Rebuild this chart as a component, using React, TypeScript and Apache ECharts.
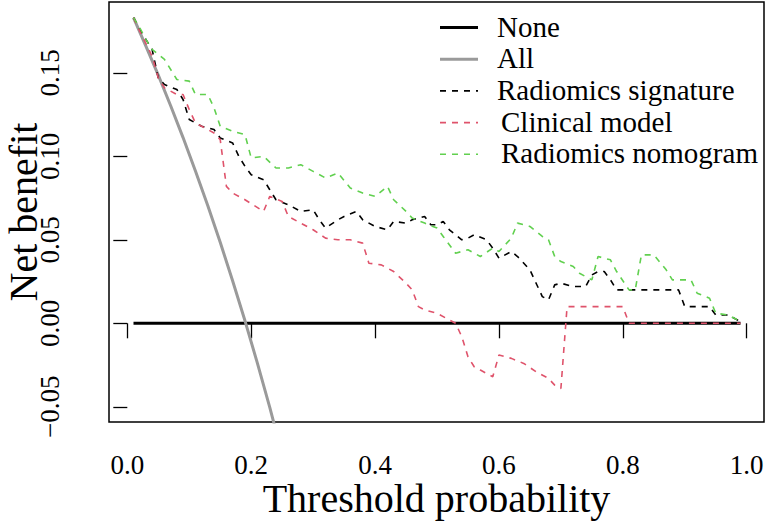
import React, { useEffect, useRef } from "react";
import * as echarts from "echarts";

const xTicks = [0, 0.2, 0.4, 0.6, 0.8, 1.0];
const yTicks = [-0.05, 0, 0.05, 0.1, 0.15];

const noneX = [0.01, 0.99];
const noneY = [0, 0];

const allX = [0.01, 0.03, 0.05, 0.07, 0.09, 0.11, 0.13, 0.15, 0.17, 0.19, 0.21, 0.23, 0.25];
const allY = [0.183, 0.166, 0.1486, 0.1303, 0.1112, 0.0912, 0.0704, 0.0485, 0.0255, 0.0015, -0.0238, -0.0504, -0.0784];

const sigX = [0.01, 0.02, 0.04, 0.05, 0.06, 0.08, 0.09, 0.10, 0.12, 0.14, 0.15, 0.17, 0.18, 0.19, 0.20, 0.22, 0.23, 0.24, 0.26, 0.28, 0.30, 0.31, 0.32, 0.34, 0.35, 0.37, 0.38, 0.40, 0.42, 0.43, 0.45, 0.46, 0.48, 0.49, 0.50, 0.51, 0.52, 0.54, 0.55, 0.56, 0.58, 0.59, 0.60, 0.62, 0.63, 0.65, 0.66, 0.67, 0.68, 0.69, 0.70, 0.72, 0.74, 0.75, 0.76, 0.77, 0.78, 0.79, 0.89, 0.90, 0.94, 0.95, 0.97, 0.99];
const sigY = [0.183, 0.176, 0.164, 0.147, 0.143, 0.140, 0.134, 0.122, 0.118, 0.116, 0.111, 0.108, 0.100, 0.094, 0.089, 0.086, 0.080, 0.074, 0.071, 0.067, 0.068, 0.062, 0.057, 0.062, 0.064, 0.067, 0.062, 0.058, 0.056, 0.061, 0.060, 0.062, 0.064, 0.059, 0.059, 0.061, 0.056, 0.050, 0.051, 0.053, 0.050, 0.045, 0.039, 0.043, 0.040, 0.032, 0.024, 0.016, 0.014, 0.023, 0.024, 0.022, 0.022, 0.029, 0.031, 0.031, 0.026, 0.020, 0.020, 0.010, 0.010, 0.005, 0.005, 0.001];

const clinX = [0.01, 0.02, 0.04, 0.05, 0.06, 0.08, 0.09, 0.10, 0.11, 0.12, 0.14, 0.15, 0.16, 0.17, 0.19, 0.22, 0.23, 0.25, 0.26, 0.28, 0.30, 0.32, 0.34, 0.36, 0.38, 0.39, 0.41, 0.43, 0.45, 0.46, 0.47, 0.48, 0.50, 0.52, 0.53, 0.54, 0.55, 0.56, 0.57, 0.59, 0.60, 0.62, 0.64, 0.66, 0.68, 0.69, 0.70, 0.71, 0.80, 0.81, 0.99];
const clinY = [0.183, 0.175, 0.160, 0.147, 0.141, 0.137, 0.137, 0.128, 0.120, 0.118, 0.114, 0.110, 0.082, 0.078, 0.074, 0.067, 0.076, 0.073, 0.064, 0.060, 0.056, 0.051, 0.050, 0.050, 0.048, 0.036, 0.035, 0.031, 0.024, 0.020, 0.010, 0.008, 0.006, 0.002, 0.000, -0.008, -0.020, -0.026, -0.028, -0.032, -0.019, -0.021, -0.024, -0.029, -0.033, -0.037, -0.039, 0.010, 0.010, 0.000, 0.000];

const nomoX = [0.01, 0.02, 0.03, 0.04, 0.06, 0.08, 0.10, 0.11, 0.13, 0.14, 0.15, 0.17, 0.19, 0.20, 0.22, 0.24, 0.26, 0.28, 0.30, 0.32, 0.34, 0.36, 0.38, 0.40, 0.42, 0.43, 0.45, 0.46, 0.48, 0.50, 0.51, 0.53, 0.55, 0.57, 0.59, 0.60, 0.62, 0.63, 0.65, 0.67, 0.68, 0.69, 0.70, 0.72, 0.73, 0.75, 0.76, 0.78, 0.79, 0.81, 0.82, 0.83, 0.85, 0.87, 0.88, 0.91, 0.92, 0.94, 0.95, 0.97, 0.99];
const nomoY = [0.183, 0.177, 0.170, 0.164, 0.158, 0.146, 0.145, 0.137, 0.137, 0.129, 0.118, 0.115, 0.113, 0.099, 0.100, 0.093, 0.093, 0.095, 0.091, 0.087, 0.090, 0.081, 0.078, 0.076, 0.082, 0.074, 0.067, 0.063, 0.060, 0.057, 0.052, 0.042, 0.044, 0.040, 0.045, 0.043, 0.051, 0.060, 0.058, 0.052, 0.050, 0.040, 0.037, 0.034, 0.030, 0.026, 0.040, 0.038, 0.031, 0.020, 0.020, 0.041, 0.041, 0.032, 0.026, 0.026, 0.018, 0.015, 0.006, 0.005, 0.001];

const legendLabels = ["None", "All", "Radiomics signature", "Clinical model", "Radiomics nomogram"];
const legendColors = ["#000000", "#9a9a9a", "#000000", "#DF536B", "#61D04F"];

const FONT = "'Liberation Serif'";

const zip = (xs: number[], ys: number[]) => xs.map((x, i) => [x, ys[i]]);

export default function App() {
  const ref = useRef<HTMLDivElement>(null);
  useEffect(() => {
    if (!ref.current) return;
    const chart = echarts.init(ref.current, undefined, { renderer: "svg" });
    const dashed = { type: [6, 6] as number[], width: 1.6 };
    const legendY = [26.5, 58.2, 89.9, 121.6, 153.3];
    const legendTextX = [497, 497, 497, 501, 501];
    const graphics: any[] = [];
    legendLabels.forEach((lab, i) => {
      const solid = i < 2;
      graphics.push({
        type: "line",
        shape: { x1: 440, y1: legendY[i] + 1, x2: 478, y2: legendY[i] + 1 },
        style: {
          stroke: legendColors[i],
          lineWidth: solid ? 3 : 1.6,
          lineDash: solid ? null : [6, 6],
        },
      });
      graphics.push({
        type: "text",
        x: legendTextX[i],
        y: legendY[i],
        style: {
          text: lab,
          fill: "#000",
          fontFamily: FONT,
          fontSize: 29,
          textAlign: "left",
          textVerticalAlign: "middle",
        },
      });
    });

    chart.setOption({
      animation: false,
      backgroundColor: "#ffffff",
      textStyle: { fontFamily: FONT },
      grid: {
        left: 109,
        right: 3,
        top: 2,
        bottom: 100,
        outerBoundsMode: "none",
        containLabel: false,
        show: true,
        borderColor: "#000",
        borderWidth: 1.5,
        backgroundColor: "transparent",
      },
      xAxis: {
        type: "value",
        min: -0.02955,
        max: 1.0279,
        name: "Threshold probability",
        nameLocation: "middle",
        nameGap: 56,
        nameMoveOverlap: false,
        nameTextStyle: { fontFamily: FONT, fontSize: 40, color: "#000" },
        axisLine: { show: false },
        splitLine: { show: false },
        axisTick: { show: true, customValues: xTicks, length: 15, lineStyle: { color: "#000", width: 1.3 } },
        axisLabel: {
          customValues: xTicks,
          formatter: (v: number) => v.toFixed(1),
          fontFamily: FONT,
          fontSize: 27,
          color: "#000",
          margin: 29,
        },
      },
      yAxis: {
        type: "value",
        min: -0.0591,
        max: 0.1924,
        name: "Net benefit",
        nameLocation: "middle",
        nameGap: 66,
        nameMoveOverlap: false,
        nameTextStyle: { fontFamily: FONT, fontSize: 40, color: "#000" },
        axisLine: { show: false },
        splitLine: { show: false },
        axisTick: { show: true, customValues: yTicks, length: 14, lineStyle: { color: "#000", width: 1.3 } },
        axisLabel: {
          customValues: yTicks,
          rotate: 90,
          formatter: (v: number) => (v < 0 ? "\u2212" + Math.abs(v).toFixed(2) : v.toFixed(2)),
          fontFamily: FONT,
          fontSize: 27,
          color: "#000",
          margin: 46,
        },
      },
      graphic: graphics,
      series: [
        {
          name: "None",
          type: "line",
          data: zip(noneX, noneY),
          showSymbol: false,
          symbol: "none",
          lineStyle: { color: "#000", width: 3 },
          z: 2,
        },
        {
          name: "All",
          type: "line",
          data: zip(allX, allY),
          showSymbol: false,
          symbol: "none",
          clip: true,
          lineStyle: { color: "#9a9a9a", width: 3 },
          z: 3,
        },
        {
          name: "Radiomics signature",
          type: "line",
          data: zip(sigX, sigY),
          showSymbol: false,
          symbol: "none",
          lineStyle: { color: "#000", ...dashed },
          z: 4,
        },
        {
          name: "Clinical model",
          type: "line",
          data: zip(clinX, clinY),
          showSymbol: false,
          symbol: "none",
          lineStyle: { color: "#DF536B", ...dashed },
          z: 5,
        },
        {
          name: "Radiomics nomogram",
          type: "line",
          data: zip(nomoX, nomoY),
          showSymbol: false,
          symbol: "none",
          lineStyle: { color: "#61D04F", ...dashed },
          z: 6,
        },
      ],
    });
    return () => chart.dispose();
  }, []);
  return (
    <div
      ref={ref}
      style={{ position: "fixed", left: 0, top: 0, width: 767, height: 522, background: "#fff" }}
    />
  );
}
